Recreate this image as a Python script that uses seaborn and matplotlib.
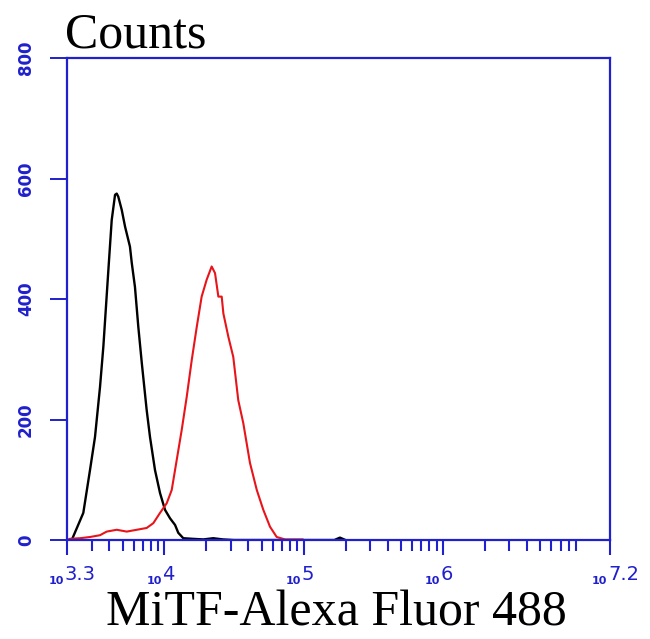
import seaborn as sns
import matplotlib.pyplot as plt
import numpy as np

# log10 fluorescence intensity and counts
control_log = [3.30, 3.334, 3.417, 3.465, 3.501, 3.537, 3.561, 3.597, 3.621, 3.645, 3.657,
               3.668, 3.693, 3.717, 3.752, 3.765, 3.788, 3.812, 3.837, 3.872, 3.896,
               3.932, 3.968, 4.004, 4.040, 4.076, 4.099, 4.135, 4.20, 4.28, 4.35,
               4.42, 4.50, 4.80, 5.22, 5.26, 5.30]
control_counts = [0, 0, 45, 116, 171, 254, 321, 448, 531, 573, 575,
                  570, 548, 520, 487, 460, 420, 354, 294, 216, 171,
                  116, 78, 50, 36, 25, 12, 3, 2, 1, 3,
                  1, 0, 0, 0, 4, 0]

mitf_log = [3.30, 3.32, 3.393, 3.465, 3.537, 3.585, 3.657, 3.729, 3.801, 3.872, 3.92,
            3.968, 4.016, 4.052, 4.088, 4.124, 4.160, 4.196, 4.232, 4.267, 4.303,
            4.339, 4.363, 4.387, 4.411, 4.423, 4.459, 4.494, 4.530, 4.566, 4.614,
            4.663, 4.710, 4.758, 4.806, 4.866, 4.995]
mitf_counts = [0, 2, 3, 5, 8, 14, 17, 14, 17, 20, 28,
               45, 61, 83, 133, 183, 238, 299, 354, 404, 432,
               454, 443, 404, 404, 376, 337, 304, 232, 194, 128,
               83, 50, 22, 5, 1, 1]

y_ticks = [0, 200, 400, 600, 800]
x_major = [3.3, 4, 5, 6, 7.2]
x_labels = ['3.3', '4', '5', '6', '7.2']

blue = '#2020cc'

sns.set_style('white')
fig = plt.figure(figsize=(6.5, 6.39), dpi=100)
ax = fig.add_axes([0.1031, 0.1549, 0.8354, 0.7543])

sns.lineplot(x=control_log, y=control_counts, ax=ax, color='black', lw=1.7, sort=False)
sns.lineplot(x=mitf_log, y=mitf_counts, ax=ax, color='#e8141a', lw=1.5, sort=False)

ax.set_xlim(3.3, 7.2)
ax.set_ylim(0, 800)

for s in ax.spines.values():
    s.set_color(blue)
    s.set_linewidth(1.6)

ax.set_yticks(y_ticks)
ax.set_yticklabels([str(v) for v in y_ticks], rotation=90, va='center',
                   fontsize=12, fontweight='bold', color=blue)
ax.tick_params(axis='y', direction='out', length=12, width=1.4, color=blue, pad=11, left=True)

minors = [np.log10(k * 10.0 ** n) for n in range(3, 8) for k in range(2, 10)]
minors = [m for m in minors if 3.31 < m < 7.19]
ax.set_xticks(x_major)
ax.set_xticks(minors, minor=True)
ax.set_xticklabels([])
ax.tick_params(axis='x', which='major', direction='out', length=11, width=1.5,
               color=blue, bottom=True)
ax.tick_params(axis='x', which='minor', direction='out', length=8, width=1.5,
               color=blue, bottom=True)

tr = ax.get_xaxis_transform()
for pos, lab in zip(x_major, x_labels):
    ax.text(pos - 0.02, -0.091, '10', transform=tr, ha='right', va='baseline',
            fontsize=8, fontweight='bold', color=blue, clip_on=False)
    ax.text(pos - 0.015, -0.083, lab, transform=tr, ha='left', va='baseline',
            fontsize=14, color=blue, clip_on=False)

fig.text(65 / 650, 1 - 48 / 639, 'Counts', family='Liberation Serif', fontsize=36,
         va='baseline', ha='left', color='black')
fig.text(336 / 650, 1 - 625 / 639, 'MiTF-Alexa Fluor 488', family='Liberation Serif',
         fontsize=36, va='baseline', ha='center', color='black')

ax.set_xlabel('')
ax.set_ylabel('')
fig.savefig('out.png', dpi=100, facecolor='white')
